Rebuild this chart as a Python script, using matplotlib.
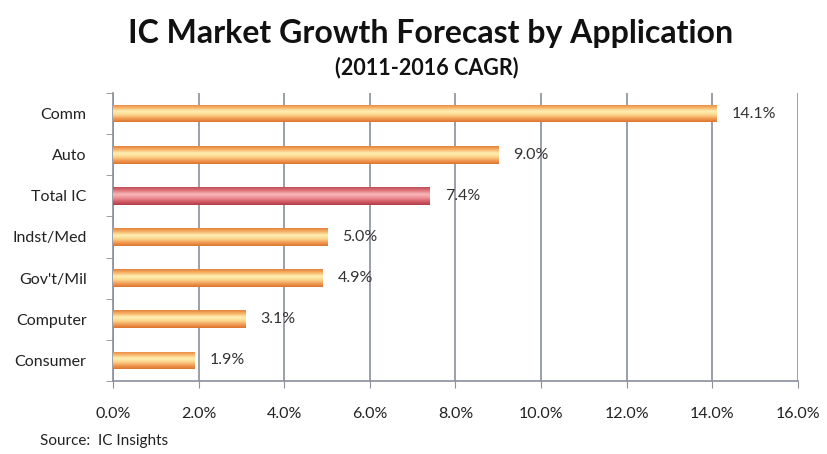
import numpy as np
import matplotlib
matplotlib.use("Agg")
import matplotlib.pyplot as plt
from matplotlib.colors import LinearSegmentedColormap

categories = ["Comm", "Auto", "Total IC", "Indst/Med", "Gov't/Mil", "Computer", "Consumer"]
values = [14.1, 9.0, 7.4, 5.0, 4.9, 3.1, 1.9]
highlight = ["Total IC"]
xticks = [0, 2, 4, 6, 8, 10, 12, 14, 16]

FONT = "Lato"
plt.rcParams["font.family"] = [FONT, "DejaVu Sans"]

orange_cm = LinearSegmentedColormap.from_list(
    "orange", ["#DD742B", "#F29E58", "#FBD68C", "#FFF0B4", "#F7B56A", "#E5823A"])
red_cm = LinearSegmentedColormap.from_list(
    "red", ["#B23C48", "#D45E68", "#EE9297", "#F8B7B8", "#E07A80", "#C04C56"])

fig = plt.figure(figsize=(8.28, 4.54), dpi=100)
ax = fig.add_axes([113 / 828, 1 - 381 / 454, (798 - 113) / 828, (381 - 93) / 454])

n = len(categories)
ypos = np.arange(n)[::-1]
h = 0.43
grad = np.linspace(0, 1, 64).reshape(-1, 1)

for y, cat, v in zip(ypos, categories, values):
    cm = red_cm if cat in highlight else orange_cm
    bar = ax.barh(y, v, height=h, color="none", edgecolor="none", zorder=3)[0]
    im = ax.imshow(grad, cmap=cm, aspect="auto", extent=[0, v, y - h / 2, y + h / 2],
                   origin="lower", zorder=3, interpolation="bilinear")
    im.set_clip_path(bar)
    ax.text(v + 0.35, y, f"{v:.1f}%", va="center", ha="left", fontsize=11.5,
            color="#333333", zorder=4)

ax.set_xlim(0, 16)
ax.set_ylim(-0.5, n - 0.5)
ax.set_xticks(xticks)
ax.set_xticklabels([f"{t:.1f}%" for t in xticks], fontsize=11.5, color="#222222")
ax.set_yticks(ypos)
ax.set_yticklabels(categories, fontsize=11.5, color="#222222")
ax.set_yticks(np.arange(-0.5, n, 1), minor=True)
ax.tick_params(axis="y", which="major", length=0, pad=19)
ax.tick_params(axis="y", which="minor", length=5, color="#8A8F99")
ax.tick_params(axis="x", length=5, color="#8A8F99", pad=14)
ax.grid(axis="x", color="#8A8F99", linewidth=1.2, zorder=0)
for s in ["top", "right"]:
    ax.spines[s].set_visible(False)
for s in ["left", "bottom"]:
    ax.spines[s].set_color("#8A8F99")
    ax.spines[s].set_linewidth(1.2)

fig.text(431 / 828, 1 - 34 / 454, "IC Market Growth Forecast by Application",
         ha="center", va="center", fontsize=23, fontweight="bold", color="#111111")
fig.text(427 / 828, 1 - 68 / 454, "(2011-2016 CAGR)", ha="center", va="center",
         fontsize=15.5, fontweight="bold", color="#111111")
fig.text(40 / 828, 1 - 441 / 454, "Source:  IC Insights", ha="left", va="center",
         fontsize=11, color="#222222")

fig.savefig("out.png", dpi=100)
